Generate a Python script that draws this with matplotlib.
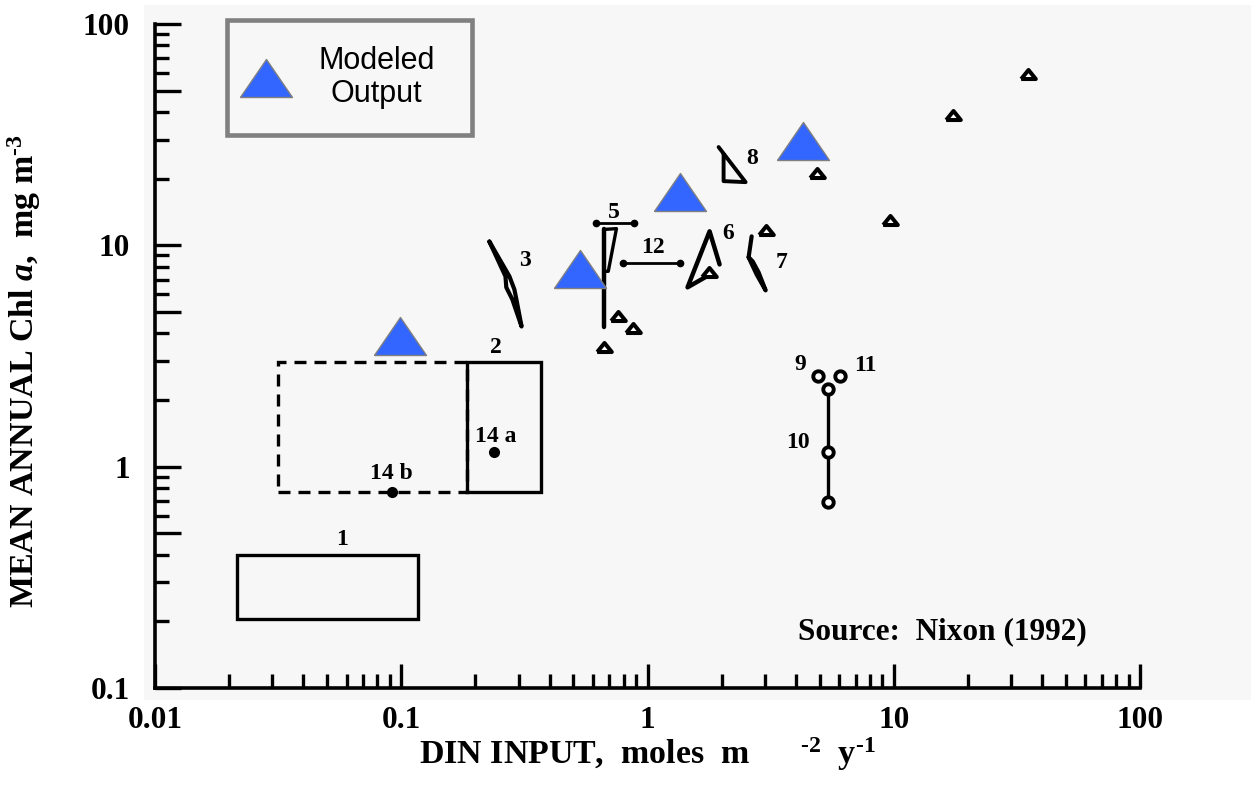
import matplotlib
matplotlib.use('Agg')
import matplotlib.pyplot as plt
from matplotlib.patches import Rectangle
from matplotlib.lines import Line2D
from matplotlib.ticker import NullFormatter
from matplotlib.font_manager import FontProperties

plt.rcParams['font.family'] = ['Liberation Serif', 'DejaVu Serif']
plt.rcParams['font.weight'] = 'bold'
plt.rcParams['mathtext.fontset'] = 'custom'
plt.rcParams['mathtext.rm'] = 'Liberation Serif:weight=bold'
plt.rcParams['mathtext.bf'] = 'Liberation Serif:weight=bold'
plt.rcParams['mathtext.it'] = 'Liberation Serif:style=italic:weight=bold'
plt.rcParams['mathtext.default'] = 'rm'

# ---------------- data ----------------
# Modeled output (big blue triangles)
model_x = [0.099, 0.53, 1.35, 4.3]
model_y = [3.9, 7.8, 17.4, 29.6]

# Nixon (1992) individual systems (small open triangles)
nixon_x = [0.668, 0.76, 0.877, 1.77, 3.02, 4.86, 9.64, 17.4, 35.1]
nixon_y = [3.49, 4.77, 4.21, 7.55, 11.7, 21.2, 13.0, 38.7, 59.4]

# boxes: x0, x1, y0, y1
box1 = (0.0215, 0.117, 0.205, 0.40)
box2_dashed = (0.0316, 0.185, 0.77, 2.96)
box2_solid = (0.185, 0.371, 0.77, 2.96)

# systems 14a / 14b (dots)
dot14_x = [0.237, 0.092]
dot14_y = [1.16, 0.77]

# system 3 (narrow loop)
sys3_x = [0.228, 0.275, 0.288, 0.2935, 0.308, 0.2825, 0.267, 0.265, 0.228]
sys3_y = [10.4, 7.24, 6.32, 5.70, 4.30, 5.70, 6.46, 7.24, 10.4]

# system 5
sys5_vx = [0.668, 0.668]
sys5_vy = [11.8, 4.26]
sys5_loop_x = [0.668, 0.748, 0.693, 0.668]
sys5_loop_y = [11.8, 11.9, 7.63, 7.63]
bar5_x = [0.615, 0.885]
bar5_y = [12.58, 12.58]

# system 12
bar12_x = [0.798, 1.35]
bar12_y = [8.29, 8.29]

# system 6
sys6_x = [1.962, 1.787, 1.454, 1.770]
sys6_y = [8.20, 11.57, 6.46, 7.32]

# system 7
sys7_x = [2.648, 2.574, 2.774, 3.018, 2.826, 2.672, 2.574]
sys7_y = [10.98, 8.83, 7.39, 6.26, 7.55, 8.47, 8.83]

# system 8
sys8_x = [1.944, 2.502, 2.037, 2.037]
sys8_y = [27.8, 19.3, 19.5, 25.8]

# systems 9, 11 and 10
sys9_11_x = [4.91, 6.03]
sys9_11_y = [2.58, 2.58]
sys10_x = [5.4, 5.4, 5.4]
sys10_y = [2.25, 1.17, 0.69]

# annotation labels
ann_text = ['1', '2', '3', '5', '12', '6', '7', '8', '9', '11', '10', '14 a', '14 b']
ann_x = [0.0575, 0.243, 0.319, 0.728, 1.048, 2.134, 3.505, 2.672, 4.19, 7.69, 4.07, 0.241, 0.0911]
ann_y = [0.467, 3.45, 8.55, 14.1, 9.79, 11.3, 8.38, 24.8, 2.894, 2.864, 1.284, 1.367, 0.930]

x_ticks = [0.01, 0.1, 1, 10, 100]
x_ticklabels = ['0.01', '0.1', '1', '10', '100']
x_minor = [m * d for d in (0.01, 0.1, 1, 10) for m in range(2, 10)]
y_ticks = [0.1, 0.5, 1, 5, 10, 50, 100]
y_ticklabels = ['0.1', '', '1', '', '10', '', '100']
y_minor = [m * d for d in (0.1, 1, 10) for m in (2, 3, 4, 6, 7, 8, 9)]

# ---------------- figure ----------------
W, H = 1251, 787
fig = plt.figure(figsize=(W / 100, H / 100), dpi=100, facecolor='white')
bg = Rectangle((144 / W, (H - 700) / H), (W - 144) / W, 695 / H,
               transform=fig.transFigure, facecolor='#f7f7f7',
               edgecolor='none', zorder=-10)
fig.patches.append(bg)
ax = fig.add_axes([155 / W, (H - 688) / H, (1140 - 155) / W, (688 - 24) / H])
ax.set_facecolor('none')
ax.set_xscale('log')
ax.set_yscale('log')
ax.set_xlim(0.01, 100)
ax.set_ylim(0.1, 100)

for s in ('top', 'right'):
    ax.spines[s].set_visible(False)
for s in ('left', 'bottom'):
    ax.spines[s].set_linewidth(2.6)
    ax.spines[s].set_color('black')

ax.set_xticks(x_ticks, x_ticklabels)
ax.set_xticks(x_minor, minor=True)
ax.set_yticks(y_ticks, y_ticklabels)
ax.set_yticks(y_minor, minor=True)
ax.xaxis.set_minor_formatter(NullFormatter())
ax.yaxis.set_minor_formatter(NullFormatter())
ax.tick_params(axis='y', which='major', direction='in', length=19, width=2.4,
               pad=18, labelsize=22.5)
ax.tick_params(axis='y', which='minor', direction='in', length=10, width=2.4)
ax.tick_params(axis='x', which='major', direction='in', length=17, width=2.4,
               pad=13, labelsize=22.5)
ax.tick_params(axis='x', which='minor', direction='in', length=10, width=2.4)

# boxes
def add_box(b, **kw):
    ax.add_patch(Rectangle((b[0], b[2]), b[1] - b[0], b[3] - b[2],
                           fill=False, edgecolor='black', **kw))

add_box(box1, lw=2.4)
add_box(box2_dashed, lw=2.4, linestyle=(0, (3.6, 2.4)))
add_box(box2_solid, lw=2.4)

# systems drawn as shapes
lkw = dict(color='black', solid_joinstyle='round', solid_capstyle='round')
ax.plot(sys3_x, sys3_y, lw=3.0, **lkw)
ax.plot(sys5_vx, sys5_vy, lw=3.2, **lkw)
ax.plot(sys5_loop_x, sys5_loop_y, lw=2.4, **lkw)
ax.plot(bar5_x, bar5_y, lw=2.0, marker='o', ms=4.5, **lkw)
ax.plot(bar12_x, bar12_y, lw=2.0, marker='o', ms=4.5, **lkw)
ax.plot(sys6_x, sys6_y, lw=3.2, **lkw)
ax.plot(sys7_x, sys7_y, lw=3.0, **lkw)
ax.plot(sys8_x, sys8_y, lw=2.8, **lkw)
ax.plot(sys10_x, sys10_y, lw=2.4, color='black', marker='o', ms=7.5,
        mfc='white', mec='black', mew=2.8)
ax.plot(sys9_11_x, sys9_11_y, ls='none', marker='o', ms=7.5,
        mfc='white', mec='black', mew=2.8)
ax.plot(dot14_x, dot14_y, ls='none', marker='o', ms=7, color='black')

small_tri = [(-1, -0.62), (1, -0.62), (0, 0.62), (-1, -0.62)]
ax.plot(nixon_x, nixon_y, ls='none', marker=small_tri, ms=10.5, mfc='white',
        mec='black', mew=2.9)

big_tri = [(-1, -0.73), (1, -0.73), (0, 0.73), (-1, -0.73)]
ax.plot(model_x, model_y, ls='none', marker=big_tri, ms=37.5, mfc='#3366ff',
        mec='#808080', mew=1.0, zorder=5)

for t, x, y in zip(ann_text, ann_x, ann_y):
    ax.text(x, y, t, fontsize=17, ha='center', va='center', fontweight='bold')

ax.text(4.07, 0.179, 'Source:  Nixon (1992)', fontsize=22.5, ha='left',
        va='center', fontweight='bold')

# axis labels
ax.set_xlabel('DIN INPUT,  moles  m      ${}^{\u20102}$  y$^{\u20101}$',
              fontsize=24.5, fontweight='bold')
ax.xaxis.set_label_coords(0.5, -0.072)
ax.set_ylabel('MEAN ANNUAL Chl $\\mathit{a}$,  mg m$^{\u20103}$', fontsize=24.5,
              fontweight='bold')
ax.yaxis.set_label_coords(-0.114, 0.477)

# legend
handle = Line2D([], [], ls='none', marker=big_tri, ms=37.5, mfc='#3366ff',
                mec='#808080', mew=1.0)
leg = ax.legend([handle], ['Modeled\nOutput'], loc='upper left',
                bbox_to_anchor=(0.0731, 0.5, 0.2487, 0.506), mode='expand',
                borderaxespad=0,
                prop=FontProperties(family='Liberation Sans', size=22,
                                    weight='normal'),
                frameon=True, fancybox=False, framealpha=1,
                facecolor='#f7f7f7', edgecolor='#808080',
                borderpad=0.84, handlelength=0.885, handletextpad=1.26)
leg.get_frame().set_linewidth(3.3)
for t in leg.get_texts():
    t.set_multialignment('center')
    t.set_linespacing(1.15)

fig.savefig('out.png', dpi=100, facecolor='white')
